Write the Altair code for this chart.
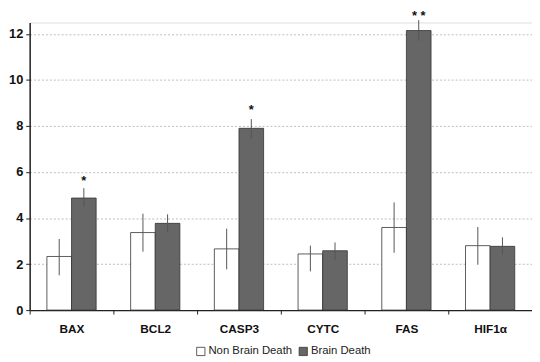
import altair as alt
import pandas as pd

categories = ["BAX", "BCL2", "CASP3", "CYTC", "FAS", "HIF1α"]
groups = ["Non Brain Death", "Brain Death"]
non_bd = [2.33, 3.37, 2.66, 2.44, 3.59, 2.80]
non_bd_lo = [1.51, 2.54, 1.77, 1.68, 2.49, 1.97]
non_bd_hi = [3.09, 4.19, 3.54, 2.80, 4.68, 3.61]
bd = [4.87, 3.77, 7.90, 2.58, 12.15, 2.77]
bd_lo = [4.51, 3.37, 7.44, 2.19, 11.70, 2.40]
bd_hi = [5.30, 4.16, 8.30, 2.94, 12.60, 3.16]
stars = ["*", "", "*", "", "* *", ""]
star_y = [5.6, 0, 8.7, 0, 12.8, 0]

rows = []
for i, c in enumerate(categories):
    rows.append({"cat": c, "grp": groups[0], "v": non_bd[i], "lo": non_bd_lo[i], "hi": non_bd_hi[i]})
    rows.append({"cat": c, "grp": groups[1], "v": bd[i], "lo": bd_lo[i], "hi": bd_hi[i]})
df = pd.DataFrame(rows)

sdf = pd.DataFrame({"cat": categories, "grp": groups[1], "s": stars, "y": star_y})
sdf = sdf[sdf["s"] != ""]

FONT = "Liberation Sans"

x = alt.X("cat:N", sort=categories, title=None,
          scale=alt.Scale(paddingInner=0, paddingOuter=0),
          axis=alt.Axis(labelAngle=0, labelFont=FONT, labelFontWeight="bold",
                        labelFontSize=12, labelColor="#111", labelPadding=10,
                        domainColor="#222", domainWidth=1.2, tickColor="#222",
                        tickSize=4, tickBand="extent", grid=False))
xo = alt.XOffset("grp:N", sort=groups,
                 scale=alt.Scale(paddingInner=0, paddingOuter=0.7))
yscale = alt.Scale(domain=[0, 12.5], nice=False)

bars = alt.Chart(df).mark_bar(stroke="#333", strokeWidth=0.8).encode(
    x=x, xOffset=xo,
    y=alt.Y("v:Q", scale=yscale, title=None,
            axis=alt.Axis(values=[0, 2, 4, 6, 8, 10, 12], labelFont=FONT,
                          labelFontWeight="bold", labelFontSize=13,
                          labelColor="#111", labelPadding=3,
                          domainColor="#222", domainWidth=1.5,
                          tickColor="#222", tickSize=4,
                          grid=True, gridColor="#bdbdbd", gridDash=[2, 2],
                          gridWidth=1)),
    fill=alt.Fill("grp:N", sort=groups,
                  scale=alt.Scale(domain=groups, range=["#ffffff", "#666666"]),
                  legend=alt.Legend(title=None, orient="none", legendX=168,
                                    legendY=328, direction="horizontal",
                                    symbolType="square", symbolSize=70,
                                    symbolStrokeColor="#333",
                                    symbolStrokeWidth=0.8,
                                    labelFont=FONT, labelFontSize=11.5,
                                    labelColor="#222", columnPadding=4,
                                    symbolOffset=0, labelOffset=2)),
)

err = alt.Chart(df).mark_rule(color="#555", strokeWidth=1).encode(
    x=x, xOffset=xo,
    y=alt.Y("lo:Q", scale=yscale), y2="hi:Q",
)

star_text = alt.Chart(sdf).mark_text(font=FONT, fontSize=13, fontWeight="bold",
                                     color="#111", baseline="middle").encode(
    x=x, xOffset=xo,
    y=alt.Y("y:Q", scale=yscale), text="s:N",
)

chart = alt.layer(bars, err, star_text).properties(
    width=510, height=292,
    padding={"left": 22, "top": 12, "right": 0, "bottom": 50},
    autosize=alt.AutoSizeParams(type="none"),
).configure_view(stroke=None).configure(background="white")

chart.save("out.html", embed_options={"renderer": "svg", "actions": False})
